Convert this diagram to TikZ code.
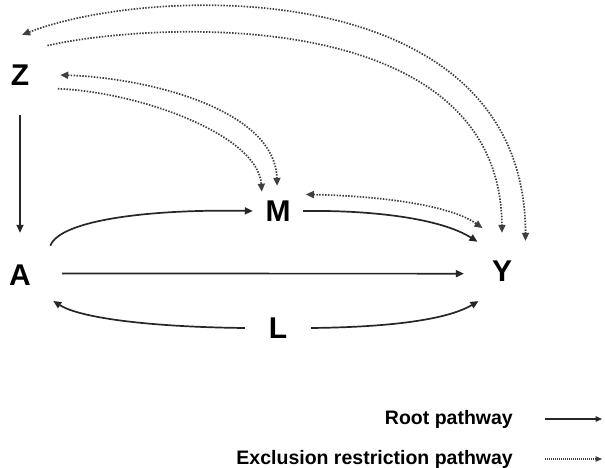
\documentclass[tikz,border=0pt]{standalone}
\usepackage{fontspec}
\setmainfont{Liberation Sans}
\usetikzlibrary{arrows.meta}
\usetikzlibrary{positioning}

\begin{document}
\begin{tikzpicture}[
    x=1pt, y=-1pt,
    var/.style={
        circle, inner sep=0pt,
        font=\fontsize{30}{30}\selectfont\bfseries
    },
    rootPath/.style={
        line width=1.7pt, black!85,
        -{Triangle[length=8pt,width=7pt]}
    },
    exclPath/.style={
        line width=1.7pt, black!75,
        dash pattern=on 1.5pt off 1.4pt,
        -{Triangle[length=8pt,width=7pt]}
    },
    exclBoth/.style={
        exclPath,
        {Triangle[length=8pt,width=7pt]}-{Triangle[length=8pt,width=7pt]}
    },
    legendText/.style={
        font=\fontsize{19.5}{19.5}\selectfont\bfseries,
        inner sep=0pt, anchor=east
    }
]
\useasboundingbox (0,0) rectangle (605,468);

\node[var, minimum size=80pt] (Z) at (20,75) {Z};
\node[var, minimum size=84pt] (A) at (20,275) {A};
\node[var, minimum size=50pt] (M) at (278,211) {M};
\node[var, minimum size=76pt] (Y) at (502,271) {Y};
\node[var, minimum size=66pt] (L) at (278,328) {L};

\draw[rootPath] (Z.-90) -- (A.90);
\draw[rootPath] (A.44) .. controls (60,220) and (150,209) .. (M.180);
\draw[rootPath] (M.0) .. controls (370,210) and (440,218) .. (Y.130);
\draw[rootPath] (A.2) -- (Y.184);
\draw[rootPath] (L.180) .. controls (150,327) and (80,318) .. (A.-38);
\draw[rootPath] (L.0) .. controls (400,327) and (450,318) .. (Y.-128);

\draw[exclBoth] (Z.87) .. controls (150,-15) and (525,-28) .. (Y.52);
\draw[exclPath] (Z.47) .. controls (150,22) and (500,2) .. (Y.90);
\draw[exclBoth] (Z.0) .. controls (150,78) and (275,110) .. (M.92);
\draw[exclPath] (Z.-20) .. controls (140,92) and (258,135) .. (M.130);
\draw[exclBoth] ([shift={(6pt,4pt)}]M.30) .. controls (380,196) and (450,205) .. ([shift={(-4pt,8pt)}]Y.114);

\node[legendText] (rootLbl) at (513,419) {Root pathway};
\coordinate[right=32pt of rootLbl.east] (rootFrom);
\coordinate[right=57pt of rootFrom] (rootTo);
\draw[rootPath, line width=1.4pt, -{Triangle[length=6.5pt,width=5.5pt]}] (rootFrom) -- (rootTo);

\node[legendText] (exclLbl) at (513,459) {Exclusion restriction pathway};
\coordinate[right=32pt of exclLbl.east] (exclFrom);
\coordinate[right=57pt of exclFrom] (exclTo);
\draw[exclPath, line width=1.1pt, dash pattern=on 1pt off 1pt, -{Triangle[length=6.5pt,width=5.5pt]}] (exclFrom) -- (exclTo);
\end{tikzpicture}
\end{document}
